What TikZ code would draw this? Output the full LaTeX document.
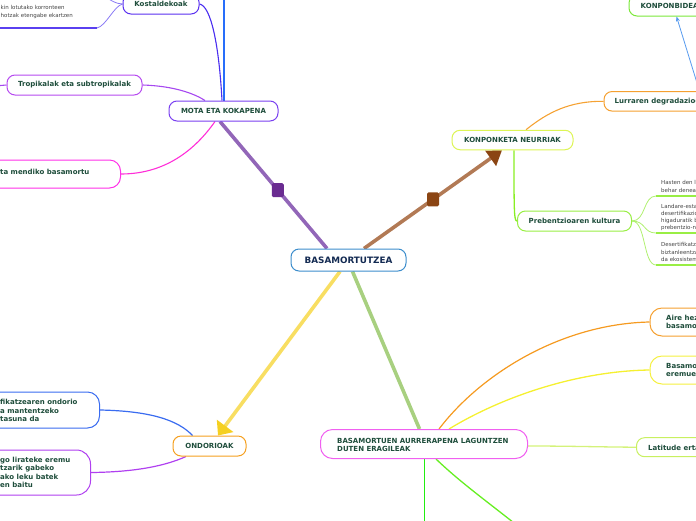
\documentclass[tikz,border=0pt]{standalone}
\usepackage{fontspec}
\setmainfont{DejaVu Sans}
\usetikzlibrary{arrows.meta,backgrounds}
\definecolor{txtc}{HTML}{1E4D3B}
\definecolor{navyc}{HTML}{132A52}
\definecolor{leafc}{HTML}{444444}
\definecolor{cbord}{HTML}{3C8DCC}
\definecolor{motac}{HTML}{7A40F0}
\definecolor{kostc}{HTML}{5A30F0}
\definecolor{tropc}{HTML}{B64AF0}
\definecolor{mendc}{HTML}{FF30E8}
\definecolor{konpc}{HTML}{DDF555}
\definecolor{konpbc}{HTML}{7BE83A}
\definecolor{lurrc}{HTML}{F5A030}
\definecolor{prebc}{HTML}{99EE44}
\definecolor{ondoc}{HTML}{F5A020}
\definecolor{fikc}{HTML}{3A6CF0}
\definecolor{lirc}{HTML}{B040F0}
\definecolor{basamc}{HTML}{F060F0}
\definecolor{airec}{HTML}{F5A030}
\definecolor{basamoc}{HTML}{F5F040}
\definecolor{latc}{HTML}{C8F060}
\definecolor{purpl}{HTML}{9266B8}
\definecolor{purpsq}{HTML}{6A2C91}
\definecolor{brownl}{HTML}{B27A55}
\definecolor{brownd}{HTML}{8B4513}
\definecolor{yell}{HTML}{F8DE62}
\definecolor{yelld}{HTML}{F5D021}
\definecolor{greenl}{HTML}{A8D080}
\definecolor{kostl}{HTML}{4A2EF0}
\definecolor{kostleaf}{HTML}{8A7AF5}
\definecolor{kostul}{HTML}{5A40F0}
\definecolor{skyline}{RGB}{40,110,250}
\definecolor{tropl}{HTML}{A648F0}
\definecolor{mendl}{HTML}{FF2ED8}
\definecolor{lurrl}{HTML}{F5A233}
\definecolor{prebl}{HTML}{88EE22}
\definecolor{prebleaf}{HTML}{B0F070}
\definecolor{prebul}{HTML}{99EE44}
\definecolor{arrowbl}{HTML}{5599EE}
\definecolor{airel}{HTML}{F59A20}
\definecolor{basamol}{HTML}{F5F030}
\definecolor{latl}{HTML}{D4F27A}
\definecolor{vgreen}{HTML}{22EE11}
\definecolor{cgreen}{HTML}{66EE22}
\definecolor{fikl}{HTML}{3A6CF0}
\definecolor{lirl}{HTML}{B040F0}
\begin{document}
\begin{tikzpicture}[x=1pt,y=-1pt,
  box/.style={draw, fill=white, rounded corners=8pt, line width=1pt, inner sep=0pt},
  btxt/.style={font=\fontsize{7}{8.5}\selectfont\bfseries, text=txtc, inner sep=0pt, align=left},
  ltxt/.style={font=\fontsize{5.5}{7.2}\selectfont, text=leafc, inner sep=0pt, align=left},
  mainline/.style={line width=3.6pt},
  subline/.style={line width=1.1pt},
  leafline/.style={line width=0.8pt},
  uline/.style={line width=2pt},
  sq/.style={fill, rounded corners=1.5pt, minimum width=12pt, minimum height=14pt, inner sep=0pt, draw=none},
]
\useasboundingbox (0,0) rectangle (696,520);
\clip (0,0) rectangle (696,520);

% central
\node[box, draw=cbord, minimum width=115pt, minimum height=22pt, font=\fontsize{8.8}{10}\selectfont\bfseries, text=navyc] (central) at (348.5,260) {BASAMORTUTZEA};

% MOTA ETA KOKAPENA branch
\node[box, btxt, draw=motac, minimum width=109pt, minimum height=20pt] (mota) at (223.5,111) {MOTA ETA KOKAPENA};
\node[box, btxt, draw=kostc, minimum width=76pt, minimum height=20pt] (kost) at (161,4) {Kostaldekoak};
\node[box, btxt, draw=tropc, minimum width=135pt, minimum height=20pt] (trop) at (74.5,85) {Tropikalak eta subtropikalak};
\node[box, draw=mendc, rounded corners=11pt, minimum width=200pt, minimum height=28pt, anchor=east] (mend) at (121,174) {};
\node[btxt, anchor=west] (mendt) at (0,171.5) {ta mendiko basamortu};
\node[ltxt, anchor=west] (kleaf) at (0.5,12) {kin lotutako korronteen\\hotzak etengabe ekartzen};
\coordinate (kul) at (97,28);
\coordinate (upblue) at (224,-20);

% KONPONKETA NEURRIAK branch
\node[box, btxt, draw=konpc, minimum width=121pt, minimum height=19.5pt] (konp) at (512.5,140) {KONPONKETA NEURRIAK};
\node[box, draw=konpbc, minimum width=120pt, minimum height=21pt, anchor=west] (konpb) at (628.5,5.5) {};
\node[btxt, anchor=west] (konpbt) at (640.5,6) {KONPONBIDEA};
\node[box, draw=lurrc, minimum width=150pt, minimum height=19.5pt, anchor=west] (lurr) at (603.5,101.3) {};
\node[btxt, anchor=west] (lurrt) at (614.5,101.5) {Lurraren degradazio-};
\node[box, btxt, draw=prebc, minimum width=114pt, minimum height=20pt] (preb) at (574.5,221) {Prebentzioaren kultura};
\node[ltxt, anchor=west] (pl1) at (661,186.5) {Hasten den l\\behar denea};
\node[ltxt, anchor=west] (pl2) at (661,217.5) {Landare-esta\\desertifikazio\\higaduratik b\\prebentzio-n};
\node[ltxt, anchor=west] (pl3) at (661,252) {Desertifikatz\\biztanleentza\\da ekosistem};
\coordinate (pu1) at (656,196);
\coordinate (pu2) at (656,233);
\coordinate (pu3) at (656,265);

% ONDORIOAK branch
\node[box, btxt, draw=ondoc, minimum width=73pt, minimum height=20pt] (ondo) at (209.5,446) {ONDORIOAK};
\node[box, draw=fikc, rounded corners=12pt, minimum width=200pt, minimum height=36pt, anchor=east] (fik) at (100,410) {};
\node[btxt, anchor=west] (fikt) at (0,410.5) {fikatzearen ondorio\\a mantentzeko\\tasuna da};
\node[box, draw=lirc, rounded corners=14pt, minimum width=200pt, minimum height=45pt, anchor=east] (lir) at (91,472.5) {};
\node[btxt, anchor=west] (lirt) at (0,472.5) {go lirateke eremu\\tzarik gabeko\\ako leku batek\\en baitu};

% BASAMORTUEN AURRERAPENA branch
\node[box, draw=basamc, rounded corners=12pt, minimum width=207pt, minimum height=29pt] (basam) at (424,444) {};
\node[btxt, anchor=west, font=\fontsize{7}{8}\selectfont\bfseries] (basamt) at (337,444.7) {BASAMORTUEN AURRERAPENA LAGUNTZEN\\DUTEN ERAGILEAK};
\node[box, draw=airec, rounded corners=12pt, minimum width=100pt, minimum height=28pt, anchor=west] (aire) at (649.5,322) {};
\node[btxt, anchor=west] (airet) at (666,322) {Aire hez\\basamo};
\node[box, draw=basamoc, rounded corners=12pt, minimum width=100pt, minimum height=28pt, anchor=west] (basamo) at (649.5,370) {};
\node[btxt, anchor=west] (basamot) at (666,370) {Basamo\\eremue};
\node[box, draw=latc, minimum width=100pt, minimum height=19pt, anchor=west] (lat) at (636,447.2) {};
\node[btxt, anchor=west] (latt) at (648,448) {Latitude erta};

\begin{pgfonlayer}{background}
% main connectors
\draw[mainline, color=purpl] ([xshift=-21.5pt]central.north) -- ([xshift=-3.5pt]mota.south)
  node[sq, fill=purpsq, pos=0.46] (sq1) {};
\draw[mainline, color=brownl, -{Triangle[length=14pt,width=18pt,color=brownd]}] ([xshift=15.5pt]central.north) -- ([xshift=-10.5pt]konp.south)
  node[sq, fill=brownd, pos=0.5] (sq2) {};
\draw[mainline, color=yell, -{Triangle[length=12pt,width=20pt,color=yelld]}] ([xshift=-8.5pt]central.south) -- ([xshift=8.5pt]ondo.north);
\draw[mainline, color=greenl] ([xshift=4pt]central.south) -- ([xshift=-4.5pt]basam.north);

% MOTA sub connectors
\draw[line width=1.8pt, draw=skyline] ([xshift=0.5pt]mota.north) -- (upblue);
\draw[subline, color=kostl] (kost.east) .. controls (211,6) and (219,45) .. ([xshift=-1.5pt]mota.north);
\draw[subline, color=tropl] (trop.east) .. controls (175,86) and (195,94) .. ([xshift=-18.5pt]mota.north);
\draw[subline, color=mendl] (mend.east) .. controls (165,174) and (195,150) .. ([xshift=-8.5pt]mota.south);
\draw[subline, color=tropl] (trop.west) -- ++(-12,1);
\draw[leafline, color=kostleaf] (kost.west) .. controls (114,6) and (106,26) .. (kul);
\draw[leafline, color=kostleaf] (kost.west) .. controls (116,4) and (110,0) .. ++(-25,-12);
\draw[uline, color=kostul] (kul) -- ++(-100,0);

% KONPONKETA sub connectors
\draw[subline, color=lurrl] ([xshift=13.5pt]konp.north) .. controls (548,112) and (570,101) .. (lurr.west);
\draw[line width=0.8pt, color=arrowbl, -{Stealth[length=5pt,width=4pt]}] ([xshift=96pt]lurr.north west) -- ([xshift=48pt]konpb.south west);
\draw[line width=1.3pt, color=prebl] ([xshift=1.5pt]konp.south) .. controls (514,212) and (514,221) .. (preb.west);
\draw[leafline, color=prebleaf] (preb.east) .. controls (646,221) and (643,196) .. (pu1);
\draw[leafline, color=prebleaf] (preb.east) .. controls (646,221) and (643,233) .. (pu2);
\draw[leafline, color=prebleaf] (preb.east) .. controls (646,221) and (643,265) .. (pu3);
\draw[uline, color=prebul] (pu1) -- ++(50,0);
\draw[uline, color=prebul] (pu2) -- ++(50,0);
\draw[uline, color=prebul] (pu3) -- ++(50,0);

% ONDORIOAK sub connectors
\draw[line width=1.2pt, color=fikl] (fik.east) .. controls (150,411) and (178,420) .. ([xshift=-17pt]ondo.north);
\draw[line width=1.2pt, color=lirl] (lir.east) .. controls (135,472) and (165,466) .. ([xshift=-23.5pt]ondo.south);

% BASAMORTUEN sub connectors
\draw[line width=1.2pt, color=airel] ([xshift=15pt]basam.north) .. controls (480,375) and (560,324) .. (aire.west);
\draw[line width=1.3pt, color=basamol] ([xshift=25pt]basam.north) .. controls (505,395) and (580,371) .. (basamo.west);
\draw[line width=1.3pt, color=latl] ([yshift=-2pt]basam.east) .. controls (570,446) and (600,447) .. (lat.west);
\draw[line width=1.6pt, color=vgreen] ([xshift=0.5pt]basam.south) -- ++(0,80);
\draw[line width=1.3pt, color=cgreen] ([xshift=12pt]basam.south) .. controls (462,484) and (492,505) .. ++(88,72);
\end{pgfonlayer}
\end{tikzpicture}
\end{document}
